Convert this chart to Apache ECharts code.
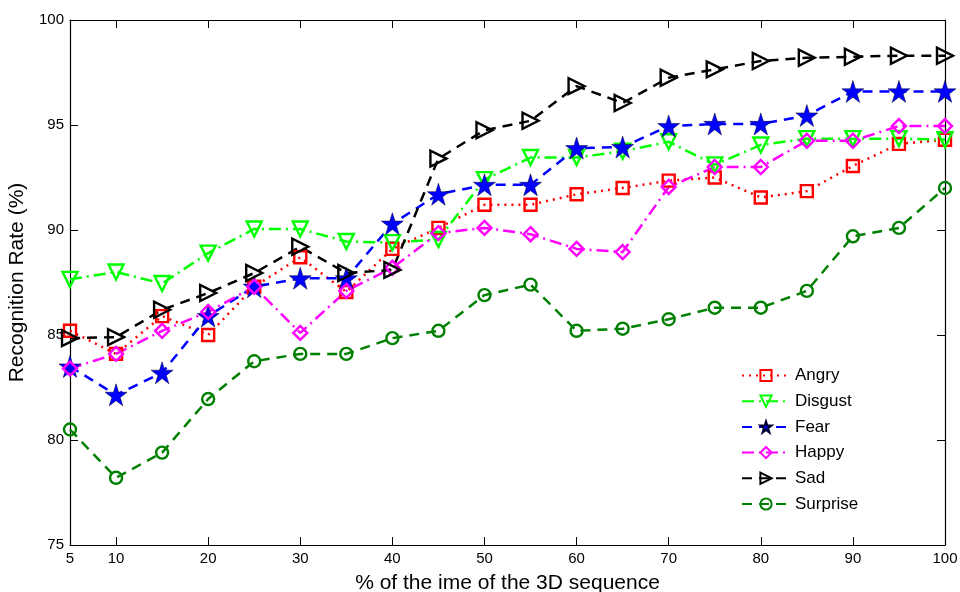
<!DOCTYPE html>
<html><head><meta charset="utf-8">
<script src="https://cdn.jsdelivr.net/npm/echarts@6/dist/echarts.min.js"></script>
<style>html,body{margin:0;padding:0;background:#fff}#c{width:960px;height:592px}</style>
</head><body><div id="c"></div>
<script>
const xValues = [5,10,15,20,25,30,35,40,45,50,55,60,65,70,75,80,85,90,95,100];
const xTicks = [5,10,20,30,40,50,60,70,80,90,100];
const yTicks = [75,80,85,90,95,100];
const angry    = [85.2,84.1,85.9,85.0,87.3,88.7,87.05,89.1,90.1,91.2,91.2,91.7,92.0,92.35,92.5,91.55,91.85,93.05,94.1,94.3];
const disgust  = [87.65,88.0,87.45,88.9,90.05,90.05,89.45,89.4,89.55,92.4,93.45,93.45,93.75,94.2,93.1,94.05,94.35,94.35,94.35,94.3];
const fear     = [83.5,82.15,83.2,85.9,87.3,87.7,87.7,90.3,91.7,92.15,92.15,93.9,93.95,94.95,95.05,95.05,95.45,96.6,96.6,96.6];
const happy    = [83.4,84.1,85.2,86.1,87.3,85.1,87.1,88.2,89.85,90.1,89.8,89.1,88.95,92.05,93.0,93.0,94.25,94.25,94.95,94.95];
const sad      = [84.85,84.9,86.2,87.0,87.95,89.2,87.95,88.1,93.4,94.75,95.2,96.85,96.05,97.25,97.65,98.05,98.2,98.25,98.3,98.3];
const surprise = [80.5,78.2,79.4,81.95,83.75,84.1,84.1,84.85,85.2,86.9,87.4,85.2,85.3,85.75,86.3,86.3,87.1,89.7,90.1,92.0];
const names = ['Angry','Disgust','Fear','Happy','Sad','Surprise'];

const STAR = 'path://M50,0 L61.2,34.5 L97.6,34.5 L68.2,55.9 L79.4,90.5 L50,69.1 L20.6,90.5 L31.8,55.9 L2.4,34.5 L38.8,34.5 Z';
const FONT = '"Liberation Sans", Arial, sans-serif';

function mk(name, vals, color, dash, symbol, size, rotate, filled) {
  return {
    name: name, type: 'line',
    data: xValues.map((x, i) => [x, vals[i]]),
    symbol: symbol, symbolSize: size, symbolRotate: rotate,
    showAllSymbol: true,
    lineStyle: { color: color, width: 2.5, type: dash },
    itemStyle: { color: filled ? color : 'rgba(255,255,255,0)', borderColor: filled ? '#000033' : color, borderWidth: filled ? 0.5 : 2.4 },
    emphasis: { disabled: true },
    z: 3
  };
}

const chart = echarts.init(document.getElementById('c'));
chart.setOption({
  animation: false,
  backgroundColor: '#fff',
  grid: { left: 70, right: 15, top: 20, bottom: 47, containLabel: false, outerBoundsMode: 'none' },
  legend: {
    data: names, orient: 'vertical', left: 741, top: 367,
    itemWidth: 48, itemHeight: 14, itemGap: 8.7,
    textStyle: { fontFamily: FONT, fontSize: 17, color: '#000' },
    padding: 0
  },
  xAxis: [{
    type: 'value', min: 5, max: 100, interval: 5, position: 'bottom',
    name: '% of the ime of the 3D sequence', nameLocation: 'middle', nameGap: 28,
    nameTextStyle: { fontFamily: FONT, fontSize: 21, color: '#000' },
    axisLine: { lineStyle: { color: '#000', width: 1.2 } },
    axisTick: { inside: true, length: 8, lineStyle: { color: '#000' }, customValues: xTicks },
    axisLabel: { color: '#000', fontFamily: FONT, fontSize: 15, margin: 6, customValues: xTicks },
    splitLine: { show: false }
  }, {
    type: 'value', min: 5, max: 100, interval: 5, position: 'top',
    axisLine: { lineStyle: { color: '#000', width: 1.2 } },
    axisTick: { inside: true, length: 8, lineStyle: { color: '#000' }, customValues: xTicks },
    axisLabel: { show: false }, splitLine: { show: false }
  }],
  yAxis: [{
    type: 'value', min: 75, max: 100, interval: 5, position: 'left',
    name: 'Recognition Rate (%)', nameLocation: 'middle', nameGap: 38,
    nameTextStyle: { fontFamily: FONT, fontSize: 21, color: '#000' },
    axisLine: { show: true, lineStyle: { color: '#000', width: 1.2 } },
    axisTick: { show: true, inside: true, length: 8, lineStyle: { color: '#000' } },
    axisLabel: { color: '#000', fontFamily: FONT, fontSize: 15, margin: 6 },
    splitLine: { show: false }
  }, {
    type: 'value', min: 75, max: 100, interval: 5, position: 'right',
    axisLine: { show: true, lineStyle: { color: '#000', width: 1.2 } },
    axisTick: { show: true, inside: true, length: 8, lineStyle: { color: '#000' } },
    axisLabel: { show: false }, splitLine: { show: false }
  }],
  series: [
    mk('Angry', angry, '#ff0000', [2,5], 'rect', 12, 0, false),
    mk('Disgust', disgust, '#00ff00', [12,5,2,5], 'triangle', 15, 180, false),
    mk('Fear', fear, '#0000ff', [10,7], STAR, 22, 0, true),
    mk('Happy', happy, '#ff00ff', [12,5,2,5], 'diamond', 14, 0, false),
    mk('Sad', sad, '#000000', [10,7], 'triangle', 16, -90, false),
    mk('Surprise', surprise, '#008000', [10,7], 'circle', 12, 0, false)
  ]
});
</script></body></html>
